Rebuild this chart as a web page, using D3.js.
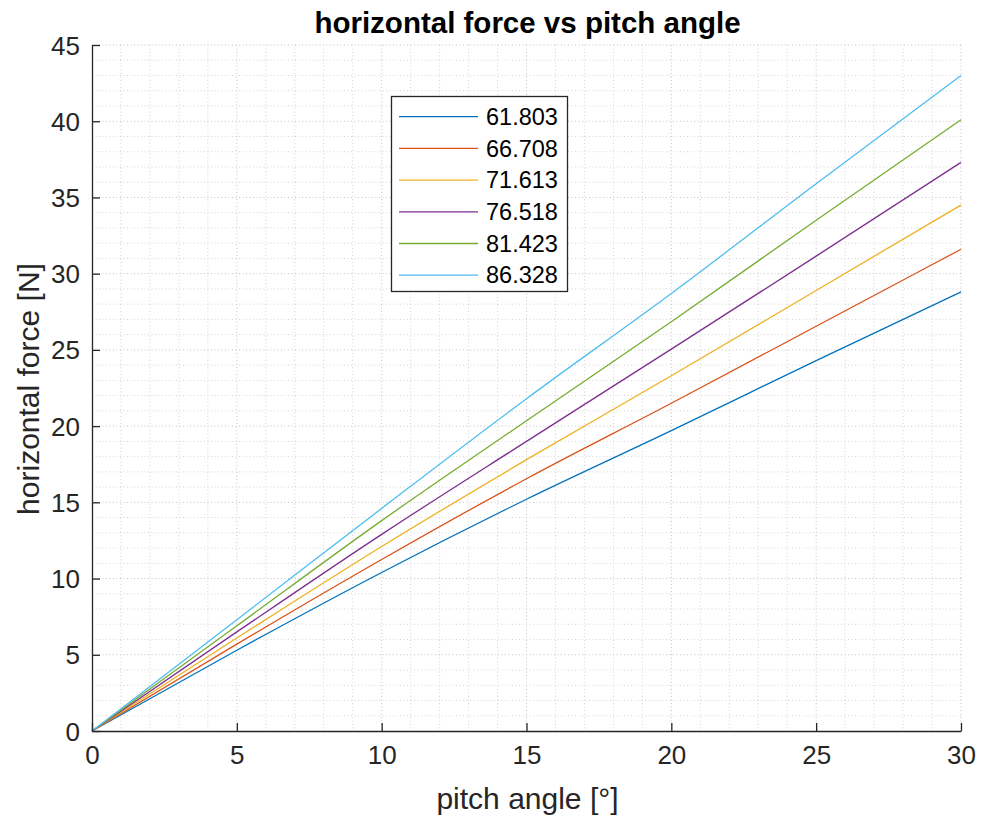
<!DOCTYPE html>
<html>
<head>
<meta charset="utf-8">
<script src="https://cdn.jsdelivr.net/npm/d3@7"></script>
<style>
  body { margin: 0; background: #fff; }
  svg { display: block; font-family: "Liberation Sans", Arial, Helvetica, sans-serif; }
</style>
</head>
<body>
<svg id="chart" width="984" height="820"></svg>
<script>
// Pitch angle samples [deg]
const pitchAngles = [0, 5, 10, 15, 20, 25, 30];

// Legend labels for each curve
const seriesNames = ["61.803", "66.708", "71.613", "76.518", "81.423", "86.328"];

// Horizontal force [N] for each curve at the pitch angles above
const force61803 = [0, 5.3, 10.4, 15.2, 19.7, 24.3, 28.8];
const force66708 = [0, 5.7, 11.25, 16.55, 21.5, 26.55, 31.6];
const force71613 = [0, 6.1, 12.1, 17.8, 23.3, 28.9, 34.5];
const force76518 = [0, 6.5, 12.9, 19.0, 25.05, 31.15, 37.3];
const force81423 = [0, 6.9, 13.8, 20.35, 26.85, 33.5, 40.1];
const force86328 = [0, 7.3, 14.6, 21.8, 28.7, 35.9, 43.0];
const forceSeries = [force61803, force66708, force71613, force76518, force81423, force86328];

const seriesColors = ["#0072BD", "#D95319", "#EDB120", "#7E2F8E", "#77AC30", "#4DBEEE"];

const xTicks = [0, 5, 10, 15, 20, 25, 30];
const yTicks = [0, 5, 10, 15, 20, 25, 30, 35, 40, 45];

const plot = { left: 92, right: 961, top: 45, bottom: 731 };
const svg = d3.select("#chart");

const x = d3.scaleLinear().domain([0, 30]).range([plot.left, plot.right]);
const y = d3.scaleLinear().domain([0, 45]).range([plot.bottom, plot.top]);

// Grid (major + minor, dotted)
const grid = svg.append("g").attr("class", "grid");
const minorX = d3.range(0, 31, 1);
const minorY = d3.range(0, 46, 1);
grid.selectAll("line.gx").data(minorX.filter(v => v > 0)).join("line")
  .attr("x1", d => x(d)).attr("x2", d => x(d))
  .attr("y1", plot.top).attr("y2", plot.bottom)
  .attr("stroke", d => d % 5 === 0 ? "#c4c4c4" : "#d4d4d4")
  .attr("stroke-width", 1).attr("stroke-dasharray", "1,2.5");
grid.selectAll("line.gy").data(minorY.filter(v => v > 0)).join("line")
  .attr("y1", d => y(d)).attr("y2", d => y(d))
  .attr("x1", plot.left).attr("x2", plot.right)
  .attr("stroke", d => d % 5 === 0 ? "#c4c4c4" : "#d4d4d4")
  .attr("stroke-width", 1).attr("stroke-dasharray", "1,2.5");

// Curves
const line = d3.line()
  .x((d, i) => x(pitchAngles[i]))
  .y(d => y(d))
  .curve(d3.curveMonotoneX);

svg.append("g").selectAll("path").data(forceSeries).join("path")
  .attr("d", d => line(d))
  .attr("fill", "none")
  .attr("stroke", (d, i) => seriesColors[i])
  .attr("stroke-width", 1.3);

// Axes (inward ticks)
const axisColor = "#262626";
const xAxis = svg.append("g")
  .attr("transform", `translate(0,${plot.bottom})`)
  .call(d3.axisBottom(x).tickValues(xTicks).tickSizeInner(-8).tickSizeOuter(0).tickPadding(15).tickFormat(d3.format("d")));
const yAxis = svg.append("g")
  .attr("transform", `translate(${plot.left},0)`)
  .call(d3.axisLeft(y).tickValues(yTicks).tickSizeInner(-8).tickSizeOuter(0).tickPadding(12).tickFormat(d3.format("d")));

[xAxis, yAxis].forEach(a => {
  a.select(".domain").attr("stroke", axisColor).attr("stroke-width", 1.3);
  a.selectAll(".tick line").attr("stroke", axisColor).attr("stroke-width", 1.3);
  a.selectAll(".tick text").attr("fill", axisColor).attr("font-size", 26)
    .attr("font-family", "'Liberation Sans', Arial, sans-serif");
});
xAxis.selectAll(".tick text").attr("dy", "0.71em");
yAxis.selectAll(".tick text").attr("dy", "0.35em");

// Title and axis labels
svg.append("text")
  .attr("x", (plot.left + plot.right) / 2 + 1).attr("y", 33)
  .attr("text-anchor", "middle").attr("font-size", 29.5).attr("font-weight", "bold")
  .attr("fill", "#000")
  .text("horizontal force vs pitch angle");

svg.append("text")
  .attr("x", (plot.left + plot.right) / 2 + 1).attr("y", 809)
  .attr("text-anchor", "middle").attr("font-size", 30).attr("fill", axisColor)
  .text("pitch angle [°]");

svg.append("text")
  .attr("transform", `translate(39,${(plot.top + plot.bottom) / 2 + 1}) rotate(-90)`)
  .attr("text-anchor", "middle").attr("font-size", 30).attr("fill", axisColor)
  .text("horizontal force [N]");

// Legend
const legend = svg.append("g");
const lg = { x: 391.5, y: 96.5, w: 176, h: 195, row: 31.7, first: 116.7 };
legend.append("rect")
  .attr("x", lg.x).attr("y", lg.y).attr("width", lg.w).attr("height", lg.h)
  .attr("fill", "#fff").attr("stroke", axisColor).attr("stroke-width", 1.3);
const items = legend.selectAll("g.item").data(seriesNames).join("g")
  .attr("transform", (d, i) => `translate(0,${lg.first + i * lg.row})`);
items.append("line")
  .attr("x1", 399).attr("x2", 478).attr("y1", 0).attr("y2", 0)
  .attr("stroke", (d, i) => seriesColors[i]).attr("stroke-width", 1.3);
items.append("text")
  .attr("x", 486).attr("y", 0).attr("dy", "0.35em")
  .attr("font-size", 23.5).attr("fill", "#000")
  .text(d => d);
</script>
</body>
</html>
